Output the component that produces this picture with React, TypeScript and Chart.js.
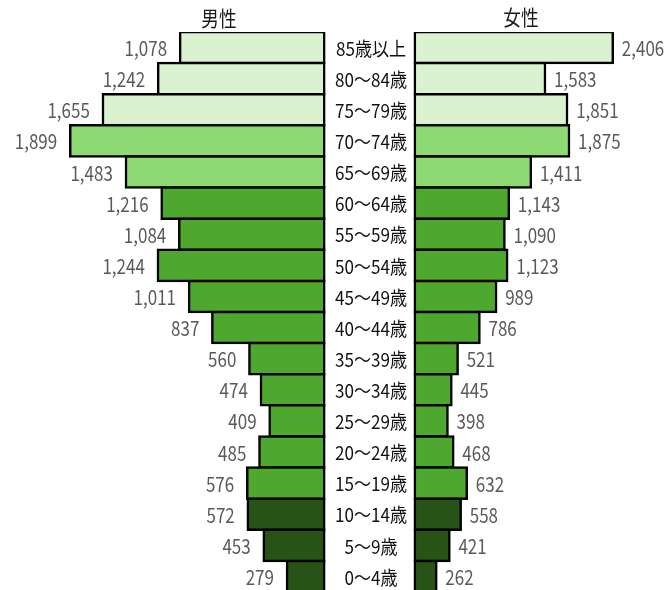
import React, { useEffect, useRef } from 'react';
import { Chart, registerables } from 'chart.js';

Chart.register(...registerables);

const ageLabels = [
  '85歳以上', '80～84歳', '75～79歳', '70～74歳', '65～69歳', '60～64歳',
  '55～59歳', '50～54歳', '45～49歳', '40～44歳', '35～39歳', '30～34歳',
  '25～29歳', '20～24歳', '15～19歳', '10～14歳', '5～9歳', '0～4歳',
];

const maleValues = [1078, 1242, 1655, 1899, 1483, 1216, 1084, 1244, 1011, 837, 560, 474, 409, 485, 576, 572, 453, 279];
const femaleValues = [2406, 1583, 1851, 1875, 1411, 1143, 1090, 1123, 989, 786, 521, 445, 398, 468, 632, 558, 421, 262];

const seriesTitles = ['男性', '女性'];

const FONT = '"Noto Sans CJK JP", "Noto Sans", sans-serif';

const colorFor = (i: number) =>
  i < 3 ? '#DAF2D0' : i < 5 ? '#8ED973' : i < 15 ? '#4EA72E' : '#275317';

const fmt = (v: number) => v.toLocaleString('en-US');

function drawScaledText(
  ctx: CanvasRenderingContext2D,
  text: string,
  x: number,
  y: number,
  sx: number,
  align: CanvasTextAlign,
) {
  ctx.save();
  ctx.translate(x, y);
  ctx.scale(sx, 1);
  ctx.textAlign = align;
  ctx.fillText(text, 0, 0);
  ctx.restore();
}

const pyramidText = {
  id: 'pyramidText',
  afterDatasetsDraw(chart: any) {
    const ctx: CanvasRenderingContext2D = chart.ctx;
    const xm = chart.scales.xm;
    const xw = chart.scales.xw;
    const y = chart.scales.y;
    const m0 = xm.getPixelForValue(0);
    const w0 = xw.getPixelForValue(0);
    const mid = (m0 + w0) / 2 + 1.5;
    ctx.save();
    ctx.textBaseline = 'middle';

    // category labels in the middle column
    ctx.fillStyle = '#111111';
    ctx.font = `19px ${FONT}`;
    ageLabels.forEach((lab, i) => {
      drawScaledText(ctx, lab, mid, y.getPixelForValue(i) + 1, 0.9, 'center');
    });

    // value labels
    ctx.fillStyle = '#595959';
    ctx.font = `20px ${FONT}`;
    chart.getDatasetMeta(0).data.forEach((bar: any, i: number) => {
      drawScaledText(ctx, fmt(maleValues[i]), bar.x - 13, bar.y + 1, 0.85, 'right');
    });
    chart.getDatasetMeta(1).data.forEach((bar: any, i: number) => {
      drawScaledText(ctx, fmt(femaleValues[i]), bar.x + 9, bar.y + 1, 0.85, 'left');
    });

    // panel titles
    ctx.fillStyle = '#1a1a1a';
    ctx.font = `21px ${FONT}`;
    drawScaledText(ctx, seriesTitles[0], 219, 18, 0.84, 'center');
    drawScaledText(ctx, seriesTitles[1], 521, 17, 0.84, 'center');
    ctx.restore();
  },
};

export default function App() {
  const ref = useRef<HTMLCanvasElement | null>(null);

  useEffect(() => {
    if (!ref.current) return;
    const colors = ageLabels.map((_, i) => colorFor(i));
    const common = {
      backgroundColor: colors,
      borderColor: '#000000',
      borderWidth: 2.5,
      borderSkipped: false,
      inflateAmount: 1.25,
      grouped: false,
      barPercentage: 1,
      categoryPercentage: 1,
    };
    const chart = new Chart(ref.current, {
      type: 'bar',
      data: {
        labels: ageLabels,
        datasets: [
          { label: seriesTitles[0], data: maleValues, xAxisID: 'xm', ...common } as any,
          { label: seriesTitles[1], data: femaleValues, xAxisID: 'xw', ...common } as any,
        ],
      },
      options: {
        indexAxis: 'y',
        responsive: false,
        animation: false,
        layout: { padding: { top: 32, left: 0, right: 0, bottom: 0 } },
        scales: {
          y: { display: false },
          xm: { type: 'linear', axis: 'x', reverse: true, min: -2584, max: 2424, display: false },
          xw: { type: 'linear', axis: 'x', min: -5040, max: 3101, display: false },
        } as any,
        plugins: {
          legend: { display: false },
          tooltip: { enabled: false },
        },
      },
      plugins: [pyramidText],
    });
    return () => chart.destroy();
  }, []);

  return (
    <div
      style={{
        position: 'fixed',
        top: 0,
        left: 0,
        width: 670,
        height: 590,
        overflow: 'hidden',
        background: '#ffffff',
      }}
    >
      <canvas ref={ref} width={670} height={592} style={{ display: 'block' }} />
    </div>
  );
}
